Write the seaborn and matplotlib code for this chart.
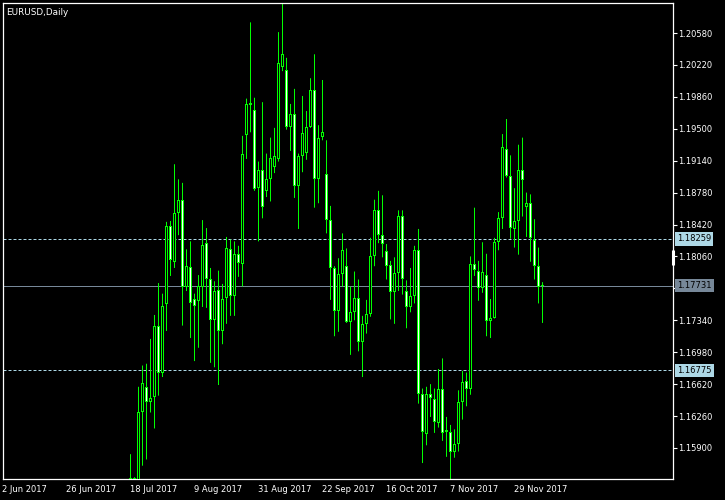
# -*- coding: utf-8 -*-
import pandas as pd
import matplotlib
matplotlib.use("Agg")
import matplotlib.pyplot as plt
import matplotlib.transforms as mtransforms
import seaborn as sns

# ====== CONFIG ======
OUTPUT_FILE = "out.png"
SYMBOL_TITLE = "EURUSD,Daily"
AXIS_START = "2017-06-02"
FIRST_CANDLE = "2017-07-18"
# ====================

# daily candles from 18 Jul 2017 to 8 Dec 2017
opens = [
    1.1479, 1.1556, 1.1514, 1.1631, 1.1659, 1.1642, 1.1648, 1.1727, 1.1675, 1.1752,
    1.1840, 1.1800, 1.1855, 1.1870, 1.1772, 1.1794, 1.1758, 1.1756, 1.1771, 1.1821,
    1.1781, 1.1734, 1.1768, 1.1722, 1.1759, 1.1814, 1.1761, 1.1809, 1.1798, 1.1943,
    1.1979, 1.1971, 1.1883, 1.1904, 1.1880, 1.1893, 1.1907, 1.1916, 1.2020, 1.2016,
    1.1952, 1.1967, 1.1885, 1.1919, 1.1923, 1.1952, 1.1994, 1.1893, 1.1941, 1.1899,
    1.1847, 1.1793, 1.1744, 1.1786, 1.1795, 1.1732, 1.1743, 1.1759, 1.1710, 1.1730,
    1.1741, 1.1807, 1.1858, 1.1830, 1.1812, 1.1796, 1.1766, 1.1787, 1.1852, 1.1767,
    1.1749, 1.1761, 1.1813, 1.1651, 1.1606, 1.1651, 1.1645, 1.1618, 1.1657, 1.1608,
    1.1608, 1.1585, 1.1594, 1.1642, 1.1666, 1.1657, 1.1798, 1.1790, 1.1770, 1.1785,
    1.1733, 1.1737, 1.1822, 1.1849, 1.1927, 1.1897, 1.1837, 1.1846, 1.1903, 1.1862,
    1.1866, 1.1825, 1.1795, 1.1774,
]
highs = [
    1.1583, 1.1557, 1.1659, 1.1683, 1.1685, 1.1713, 1.1740, 1.1776, 1.1764, 1.1845,
    1.1846, 1.1910, 1.1893, 1.1889, 1.1814, 1.1823, 1.1764, 1.1785, 1.1847, 1.1838,
    1.1793, 1.1778, 1.1790, 1.1775, 1.1828, 1.1825, 1.1823, 1.1818, 1.1942, 1.1984,
    1.2070, 1.1985, 1.1913, 1.1980, 1.1922, 1.1940, 1.1951, 1.2059, 1.2092, 1.2030,
    1.1978, 1.1995, 1.1922, 1.1987, 1.1970, 1.2007, 1.2034, 1.1954, 1.2005, 1.1937,
    1.1863, 1.1795, 1.1804, 1.1832, 1.1815, 1.1772, 1.1789, 1.1780, 1.1739, 1.1757,
    1.1827, 1.1870, 1.1880, 1.1875, 1.1820, 1.1801, 1.1805, 1.1858, 1.1858, 1.1779,
    1.1793, 1.1818, 1.1837, 1.1657, 1.1659, 1.1662, 1.1657, 1.1679, 1.1691, 1.1625,
    1.1616, 1.1611, 1.1655, 1.1677, 1.1675, 1.1806, 1.1861, 1.1801, 1.1822, 1.1809,
    1.1758, 1.1827, 1.1856, 1.1944, 1.1961, 1.1920, 1.1883, 1.1932, 1.1940, 1.1878,
    1.1876, 1.1848, 1.1816, 1.1777,
]
lows = [
    1.1476, 1.1500, 1.1480, 1.1570, 1.1577, 1.1630, 1.1612, 1.1649, 1.1670, 1.1722,
    1.1784, 1.1793, 1.1830, 1.1728, 1.1767, 1.1714, 1.1688, 1.1703, 1.1749, 1.1748,
    1.1686, 1.1681, 1.1661, 1.1707, 1.1730, 1.1739, 1.1739, 1.1783, 1.1772, 1.1916,
    1.1946, 1.1880, 1.1823, 1.1849, 1.1873, 1.1868, 1.1900, 1.1913, 1.2015, 1.1949,
    1.1925, 1.1872, 1.1837, 1.1901, 1.1915, 1.1951, 1.1861, 1.1866, 1.1937, 1.1832,
    1.1757, 1.1716, 1.1721, 1.1772, 1.1731, 1.1695, 1.1734, 1.1699, 1.1670, 1.1719,
    1.1738, 1.1795, 1.1821, 1.1805, 1.1780, 1.1735, 1.1730, 1.1767, 1.1763, 1.1725,
    1.1743, 1.1753, 1.1640, 1.1573, 1.1593, 1.1625, 1.1607, 1.1613, 1.1598, 1.1580,
    1.1554, 1.1579, 1.1586, 1.1622, 1.1637, 1.1650, 1.1784, 1.1756, 1.1765, 1.1716,
    1.1714, 1.1736, 1.1813, 1.1837, 1.1895, 1.1826, 1.1816, 1.1808, 1.1851, 1.1828,
    1.1800, 1.1780, 1.1753, 1.1731,
]
closes = [
    1.1556, 1.1514, 1.1631, 1.1663, 1.1642, 1.1646, 1.1727, 1.1675, 1.1750, 1.1840,
    1.1802, 1.1855, 1.1870, 1.1772, 1.1795, 1.1753, 1.1750, 1.1773, 1.1819, 1.1781,
    1.1734, 1.1767, 1.1722, 1.1758, 1.1815, 1.1761, 1.1809, 1.1799, 1.1922, 1.1978,
    1.1977, 1.1882, 1.1904, 1.1862, 1.1893, 1.1917, 1.1919, 1.2024, 1.2034, 1.1952,
    1.1967, 1.1885, 1.1919, 1.1945, 1.1952, 1.1994, 1.1893, 1.1940, 1.1946, 1.1847,
    1.1793, 1.1744, 1.1786, 1.1813, 1.1732, 1.1743, 1.1759, 1.1710, 1.1730, 1.1741,
    1.1807, 1.1858, 1.1830, 1.1820, 1.1795, 1.1766, 1.1787, 1.1852, 1.1781, 1.1749,
    1.1761, 1.1813, 1.1651, 1.1608, 1.1651, 1.1646, 1.1619, 1.1657, 1.1607, 1.1610,
    1.1585, 1.1594, 1.1642, 1.1664, 1.1657, 1.1798, 1.1791, 1.1770, 1.1788, 1.1733,
    1.1737, 1.1822, 1.1849, 1.1929, 1.1897, 1.1838, 1.1846, 1.1903, 1.1892, 1.1866,
    1.1827, 1.1795, 1.1772, 1.17731,
]

# axis labels
date_labels = [
    "2 Jun 2017", "26 Jun 2017", "18 Jul 2017", "9 Aug 2017", "31 Aug 2017",
    "22 Sep 2017", "16 Oct 2017", "7 Nov 2017", "29 Nov 2017",
]
price_ticks = [
    1.20580, 1.20220, 1.19860, 1.19500, 1.19140, 1.18780, 1.18420,
    1.18060, 1.17700, 1.17340, 1.16980, 1.16620, 1.16260, 1.15900,
]

# horizontal levels
level_upper = 1.18259
level_lower = 1.16775
bid_price = 1.17731

Y_MIN, Y_MAX = 1.15550, 1.20924
BAR_SLOTS = 167.5          # 4 px per bar across a 670 px wide plot
GREEN = "#00ff00"
LEVEL_BLUE = "#add8e6"
BID_GRAY = "#778899"
PX = 72 / 100              # one pixel in points at dpi 100


def build_candles():
    days = pd.bdate_range(AXIS_START, periods=len(opens) + 40)
    start = days.get_loc(pd.Timestamp(FIRST_CANDLE))
    df = pd.DataFrame({"Open": opens, "High": highs, "Low": lows, "Close": closes})
    df["Pos"] = range(start, start + len(df))
    df["Bull"] = df["Close"] >= df["Open"]
    tick_pos = [days.get_loc(pd.to_datetime(lbl, format="%d %b %Y")) for lbl in date_labels]
    return df, tick_pos


def plot_chart(df, tick_pos, output_file):
    sns.set_theme(style="dark", rc={
        "figure.facecolor": "black",
        "axes.facecolor": "black",
        "axes.edgecolor": "white",
        "axes.linewidth": 0.9,
        "xtick.color": "white",
        "ytick.color": "white",
        "text.color": "white",
    })
    plt.rcParams["font.family"] = ["DejaVu Sans"]

    fig = plt.figure(figsize=(7.25, 5), dpi=100)
    ax = fig.add_axes([2.5 / 725, 21 / 500, 670 / 725, 476.5 / 500])
    px_y = (Y_MAX - Y_MIN) / 476.5     # price per pixel

    # wicks (no snapping, so they stay centred on the bodies)
    wicks = ax.vlines(df["Pos"], df["Low"], df["High"], colors=GREEN, linewidth=PX, zorder=2)
    wicks.set_snap(False)

    # bodies: 3 px green block, 1 px black/white core inside
    body_low = df[["Open", "Close"]].min(axis=1)
    body_high = df[["Open", "Close"]].max(axis=1)
    body_h = (body_high - body_low).clip(lower=px_y)
    ax.bar(df["Pos"], body_h, bottom=body_low, width=0.75, color=GREEN,
           linewidth=0, zorder=3)
    inner = (body_high - body_low) > 2.2 * px_y
    core = df[inner]
    core_low = body_low[inner] + px_y
    core_h = (body_high - body_low)[inner] - 2 * px_y
    core_face = ["black" if b else "white" for b in core["Bull"]]
    ax.bar(core["Pos"], core_h, bottom=core_low, width=0.25, color=core_face,
           linewidth=0, zorder=4)

    # levels
    ax.axhline(level_upper, color=LEVEL_BLUE, linewidth=PX, linestyle=(0, (3, 2)), zorder=1)
    ax.axhline(level_lower, color=LEVEL_BLUE, linewidth=PX, linestyle=(0, (3, 2)), zorder=1)
    ax.axhline(bid_price, color=BID_GRAY, linewidth=PX, zorder=1)

    ax.set_xlim(0, BAR_SLOTS)
    ax.set_ylim(Y_MIN, Y_MAX)

    ax.set_xticks(tick_pos)
    ax.set_xticklabels(date_labels, ha="left", fontsize=6)
    ax.yaxis.tick_right()
    ax.set_yticks(price_ticks)
    ax.set_yticklabels([f"{p:.5f}" for p in price_ticks], fontsize=6)
    ax.tick_params(axis="x", direction="out", length=3, width=0.8, pad=1.5)
    ax.tick_params(axis="y", direction="out", length=3, width=0.8, pad=1)
    ax.grid(False)
    for side in ["top", "bottom", "left", "right"]:
        ax.spines[side].set_color("white")

    # price boxes on the scale
    trans = mtransforms.blended_transform_factory(ax.transAxes, ax.transData)
    for price, bg in [(level_upper, LEVEL_BLUE), (level_lower, LEVEL_BLUE), (bid_price, BID_GRAY)]:
        ax.text(1.0065, price, f"{price:.5f}", transform=trans, ha="left", va="center",
                fontsize=6, color="black", clip_on=False, zorder=5,
                bbox=dict(boxstyle="square,pad=0.28", fc=bg, ec="none"))

    # scroll marker on the right edge
    ax.plot([1.0, 1.0], [0.449, 0.4806], transform=ax.transAxes, color="white",
            linewidth=2.2, solid_capstyle="butt", clip_on=False, zorder=6)

    ax.text(0.006, 0.988, SYMBOL_TITLE, transform=ax.transAxes, ha="left", va="top",
            fontsize=6.4, color="white")
    ax.set_xlabel("")
    ax.set_ylabel("")

    fig.savefig(output_file, dpi=100, facecolor="black")
    plt.close(fig)
    print(f"[SUCCESS] Saved chart to {output_file}")


def main():
    df, tick_pos = build_candles()
    plot_chart(df, tick_pos, OUTPUT_FILE)


if __name__ == "__main__":
    main()
